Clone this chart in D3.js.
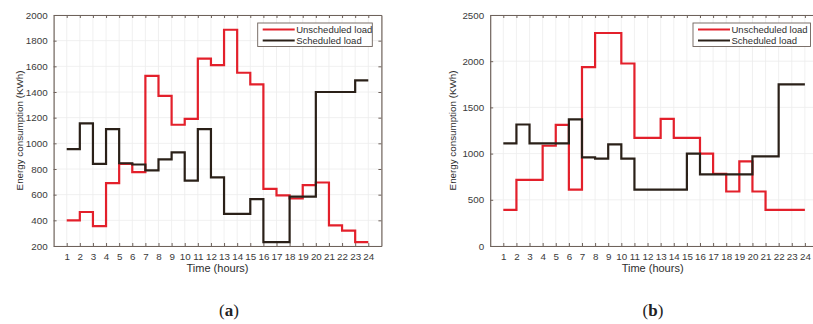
<!DOCTYPE html>
<html>
<head>
<meta charset="utf-8">
<script src="https://cdn.jsdelivr.net/npm/d3@7/dist/d3.min.js"></script>
<style>
  html, body { margin: 0; padding: 0; background: #fff; }
  svg { display: block; }
  text { font-family: "Liberation Sans", Arial, sans-serif; }
</style>
</head>
<body>
<svg id="chart" width="813" height="324"></svg>
<script>
// ---- Data ----
const hours = [1,2,3,4,5,6,7,8,9,10,11,12,13,14,15,16,17,18,19,20,21,22,23,24];

// (a)
const unscheduledA = [400,465,355,690,840,775,1525,1370,1145,1190,1660,1610,1885,1550,1460,645,595,570,675,695,360,320,230,230];
const scheduledA   = [955,1155,840,1110,845,835,790,875,930,710,1110,735,450,450,565,230,230,585,585,1400,1400,1400,1490,1490];
const yTicksA = [200,400,600,800,1000,1200,1400,1600,1800,2000];

// (b)
const unscheduledB = [390,715,715,1085,1310,610,1935,2305,2305,1975,1170,1170,1375,1170,1170,1000,780,590,915,590,390,390,390,390];
const scheduledB   = [1110,1315,1110,1110,1110,1370,960,945,1100,945,610,610,610,610,1000,775,775,775,775,970,970,1750,1750,1750];
const yTicksB = [0,500,1000,1500,2000,2500];

const seriesNames = ["Unscheduled load", "Scheduled load"];
const seriesColors = ["#e3202b", "#2a2018"];
const xLabel = "Time (hours)";
const yLabel = "Energy consumption (KWh)";

// ---- Drawing ----
const svg = d3.select("#chart");
const axisColor = "#6e625b";

function panel(cfg) {
  const g = svg.append("g");
  const x = d3.scaleLinear().domain([0, 25]).range([cfg.left, cfg.right]);
  const y = d3.scaleLinear().domain(cfg.yDomain).range([cfg.bottom, cfg.top]);

  // grid
  g.append("g").selectAll("line").data(hours).join("line")
    .attr("x1", d => x(d)).attr("x2", d => x(d))
    .attr("y1", cfg.top).attr("y2", cfg.bottom)
    .attr("stroke", "#ececec").attr("stroke-width", 0.8);
  g.append("g").selectAll("line").data(cfg.yTicks).join("line")
    .attr("x1", cfg.left).attr("x2", cfg.right)
    .attr("y1", d => y(d)).attr("y2", d => y(d))
    .attr("stroke", "#ececec").attr("stroke-width", 0.8);

  // axes
  const styleAxis = sel => {
    sel.select(".domain").attr("stroke", axisColor).attr("stroke-width", 1.2);
    sel.selectAll(".tick line").attr("stroke", axisColor);
    sel.selectAll(".tick text").attr("fill", "#3a3a3a")
      .style("font-size", "9.8px").style("font-family", "'Liberation Sans', Arial, sans-serif");
  };
  const fmt = d3.format("d");
  g.append("g").attr("transform", `translate(0,${cfg.bottom})`)
    .call(d3.axisBottom(x).tickValues(hours).tickFormat(fmt).tickSize(-3).tickSizeOuter(0).tickPadding(7))
    .call(styleAxis);
  g.append("g").attr("transform", `translate(0,${cfg.top})`)
    .call(d3.axisTop(x).tickValues(hours).tickSize(-3).tickSizeOuter(0).tickFormat(""))
    .call(styleAxis);
  g.append("g").attr("transform", `translate(${cfg.left},0)`)
    .call(d3.axisLeft(y).tickValues(cfg.yTicks).tickFormat(fmt).tickSize(-3).tickSizeOuter(0).tickPadding(6))
    .call(styleAxis);
  g.append("g").attr("transform", `translate(${cfg.right},0)`)
    .call(d3.axisRight(y).tickValues(cfg.yTicks).tickSize(-3).tickSizeOuter(0).tickFormat(""))
    .call(styleAxis);

  // lines (stairs)
  const line = d3.line().x((d, i) => x(hours[i])).y(d => y(d)).curve(d3.curveStepAfter);
  [cfg.unscheduled, cfg.scheduled].forEach((vals, k) => {
    g.append("path").datum(vals)
      .attr("d", line)
      .attr("fill", "none")
      .attr("stroke", seriesColors[k])
      .attr("stroke-width", 2.2)
      .attr("stroke-linejoin", "miter");
  });

  // legend
  const lg = g.append("g");
  lg.append("rect")
    .attr("x", cfg.legX).attr("y", 23)
    .attr("width", cfg.legW).attr("height", 23.5)
    .attr("fill", "#fff").attr("stroke", "#6e625b").attr("stroke-width", 0.9);
  seriesNames.forEach((name, k) => {
    const yy = 29.5 + k * 11;
    lg.append("line")
      .attr("x1", cfg.legX + 5).attr("x2", cfg.legX + 37)
      .attr("y1", yy).attr("y2", yy)
      .attr("stroke", seriesColors[k]).attr("stroke-width", 2);
    lg.append("text")
      .attr("x", cfg.legX + 38.5).attr("y", yy + 3.5)
      .attr("fill", "#2e2e2e")
      .style("font-size", "9.5px")
      .text(name);
  });

  // axis labels
  g.append("text")
    .attr("x", (cfg.left + Math.min(cfg.right, 813)) / 2 + cfg.xLabelShift)
    .attr("y", 271.5)
    .attr("text-anchor", "middle")
    .attr("fill", "#2e2e2e")
    .style("font-size", "11px")
    .text(xLabel);
  g.append("text")
    .attr("transform", `translate(${cfg.yLabelX},${(cfg.top + cfg.bottom) / 2}) rotate(-90)`)
    .attr("text-anchor", "middle")
    .attr("fill", "#2e2e2e")
    .style("font-size", "9.8px")
    .text(yLabel);

  // panel label
  g.append("text")
    .attr("x", cfg.panelX).attr("y", 316)
    .attr("text-anchor", "middle")
    .attr("fill", "#222")
    .style("font-family", "'Liberation Serif', 'DejaVu Serif', serif")
    .style("font-size", "17px")
    .html(`(<tspan font-weight="bold">${cfg.panelLabel}</tspan>)`);
}

panel({
  left: 53.6, right: 381.4, top: 15, bottom: 246,
  yDomain: [200, 2000], yTicks: yTicksA,
  unscheduled: unscheduledA, scheduled: scheduledA,
  legX: 257.7, legW: 114.6,
  xLabelShift: 0, yLabelX: 23,
  panelX: 229, panelLabel: "a"
});
panel({
  left: 490.2, right: 818, top: 15, bottom: 246,
  yDomain: [0, 2500], yTicks: yTicksB,
  unscheduled: unscheduledB, scheduled: scheduledB,
  legX: 693, legW: 117.5,
  xLabelShift: 1, yLabelX: 456,
  panelX: 653, panelLabel: "b"
});
</script>
</body>
</html>
